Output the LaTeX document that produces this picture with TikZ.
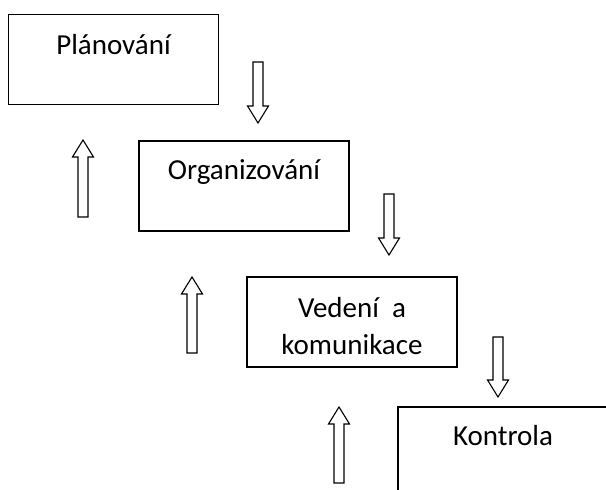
\documentclass[tikz,border=0pt]{standalone}
\usepackage{fontspec}
\setmainfont{Carlito}
\usetikzlibrary{calc}

% hollow block arrow, drawn from its tail downwards; #1 = total length
\tikzset{
   blockarrow/.pic={
      \draw[line width=0.55pt,line join=miter]
         (-5,0) -- (-5,#1-17) -- (-10.5,#1-17) -- (0,#1) -- (10.5,#1-17) -- (5,#1-17) -- (5,0) -- cycle;
   }
}

\begin{document}
\begin{tikzpicture}[x=0.5pt,y=-0.5pt,
                    line width=0.75pt,
                    stage/.style={draw,rectangle,minimum width=105pt,minimum height=45pt,inner sep=0pt},
                    caption/.style={anchor=base,align=center,inner sep=0pt,
                                    font=\fontsize{14.5}{18.5}\selectfont}]
\clip (0,0) rectangle (606,490);
% the four stages, stepping down to the right
\node[stage] (plan) at (113.5, 59.5) {};
\node[stage] (org)  at (244, 186)    {};
\node[stage] (ved)  at (352, 322)    {};
\node[stage] (kon)  at (503, 452)    {};
%
\node[caption] (plantext) at ($ (plan.north) + (0, 41) $) {Plánování};
\node[caption] (orgtext)  at ($ (org.north) + (0, 39) $)  {Organizování};
\node[caption] (vedtext)  at ($ (ved.north) + (0, 78) $)  {Vedení~ a\\komunikace};
\node[caption] (kontext)  at ($ (kon.north) + (0, 39) $)  {Kontrola};
%
% down to the next stage ...
\pic (down1) at (258, 62)  {blockarrow=61};
\pic (down2) at (389, 194) {blockarrow=61};
\pic (down3) at (498, 337) {blockarrow=60};
% ... and back up to the previous one
\pic[rotate=180] (up1) at (83, 217)  {blockarrow=77};
\pic[rotate=180] (up2) at (192, 353) {blockarrow=76};
\pic[rotate=180] (up3) at (339, 483) {blockarrow=76};
\end{tikzpicture}
\end{document}
